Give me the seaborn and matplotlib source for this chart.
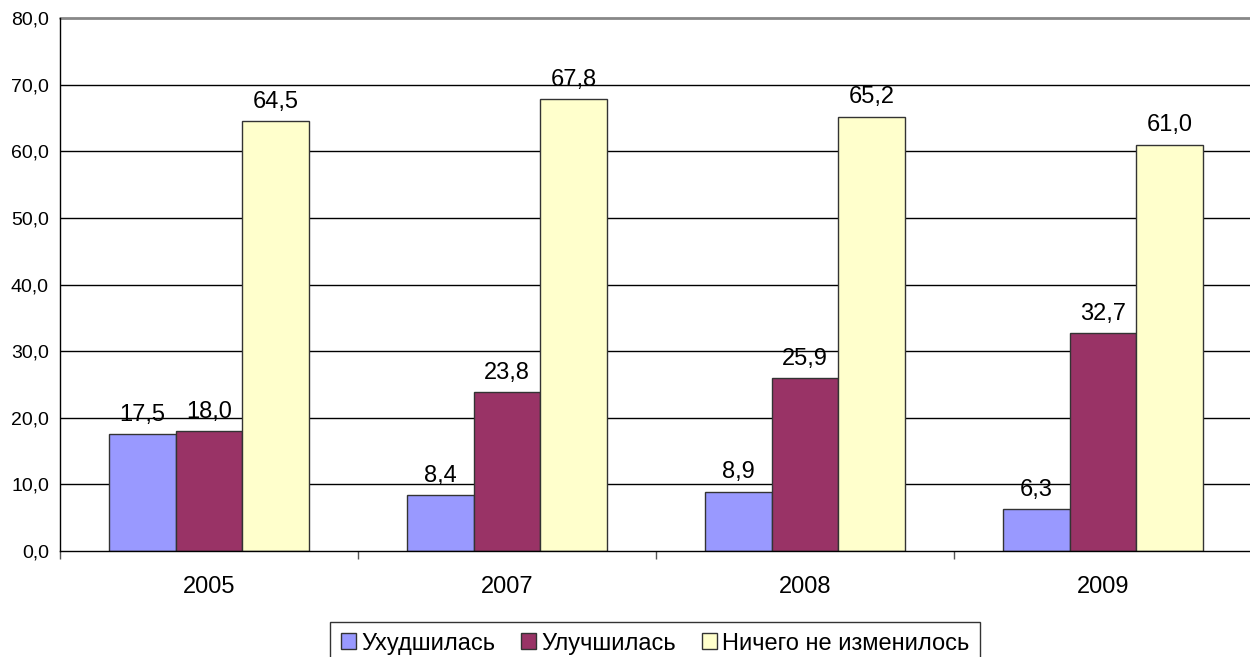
import matplotlib
matplotlib.use("Agg")
import matplotlib.pyplot as plt
import seaborn as sns
import pandas as pd
from matplotlib.patches import Patch

years = ["2005", "2007", "2008", "2009"]
series_names = ["Ухудшилась", "Улучшилась", "Ничего не изменилось"]
worse = [17.5, 8.4, 8.9, 6.3]
better = [18.0, 23.8, 25.9, 32.7]
unchanged = [64.5, 67.8, 65.2, 61.0]
colors = ["#9999FF", "#993366", "#FFFFCC"]
yticks = [0, 10, 20, 30, 40, 50, 60, 70, 80]

rows = []
for name, vals in zip(series_names, [worse, better, unchanged]):
    for y, v in zip(years, vals):
        rows.append({"Год": y, "Оценка": name, "Значение": v})
df = pd.DataFrame(rows)

sns.set_theme(style="white")
plt.rcParams["font.family"] = ["Liberation Sans", "DejaVu Sans"]
plt.rcParams["text.color"] = "black"
plt.rcParams["xtick.color"] = "black"
plt.rcParams["ytick.color"] = "black"

fig = plt.figure(figsize=(12.5, 6.57), dpi=100)
ax = fig.add_axes([60 / 1250, 1 - 551 / 657, 1192 / 1250, 533 / 657])

sns.barplot(data=df, x="Год", y="Значение", hue="Оценка", hue_order=series_names,
            order=years, palette=colors, width=0.67, edgecolor="#333333",
            linewidth=1.0, ax=ax, legend=False, saturation=1)

ax.set_xlim(-0.5, len(years) - 0.5)
ax.set_ylim(0, 80)
ax.set_yticks(yticks)
ax.set_yticklabels([f"{t:.1f}".replace(".", ",") for t in yticks], fontsize=14)
ax.set_xlabel("")
ax.set_ylabel("")
ax.tick_params(axis="x", length=0, labelsize=17, labelcolor="black", pad=18)
ax.tick_params(axis="y", length=5, width=1, color="black", labelcolor="black",
               direction="out", pad=3)

# category boundary ticks on the x axis
ax.set_xticks([i - 0.5 for i in range(len(years) + 1)], minor=True)
ax.tick_params(axis="x", which="minor", length=6, width=1, color="#555555",
               direction="out", bottom=True)

for t in yticks[1:-1]:
    ax.axhline(t, color="black", linewidth=1.0, zorder=0)
ax.axhline(80, color="#888888", linewidth=2.0, zorder=0, clip_on=False)

for side in ["top", "right"]:
    ax.spines[side].set_visible(False)
for side in ["left", "bottom"]:
    ax.spines[side].set_color("black")
    ax.spines[side].set_linewidth(1.0)

for container in ax.containers:
    ax.bar_label(container, labels=[f"{b.get_height():.1f}".replace(".", ",") for b in container],
                 padding=6, fontsize=17, color="black")

handles = [Patch(facecolor=c, edgecolor="#333333", linewidth=1.0) for c in colors]
leg = fig.legend(handles, series_names, loc="upper center",
                 bbox_to_anchor=(655 / 1250, 1 - 622 / 657), borderaxespad=0,
                 ncol=3, frameon=True, fancybox=False, fontsize=17, handlelength=0.65,
                 handleheight=0.65, handletextpad=0.2, columnspacing=1.1,
                 borderpad=0.45)
leg.get_frame().set_edgecolor("black")
leg.get_frame().set_linewidth(1.0)

fig.savefig("out.png", dpi=100)
